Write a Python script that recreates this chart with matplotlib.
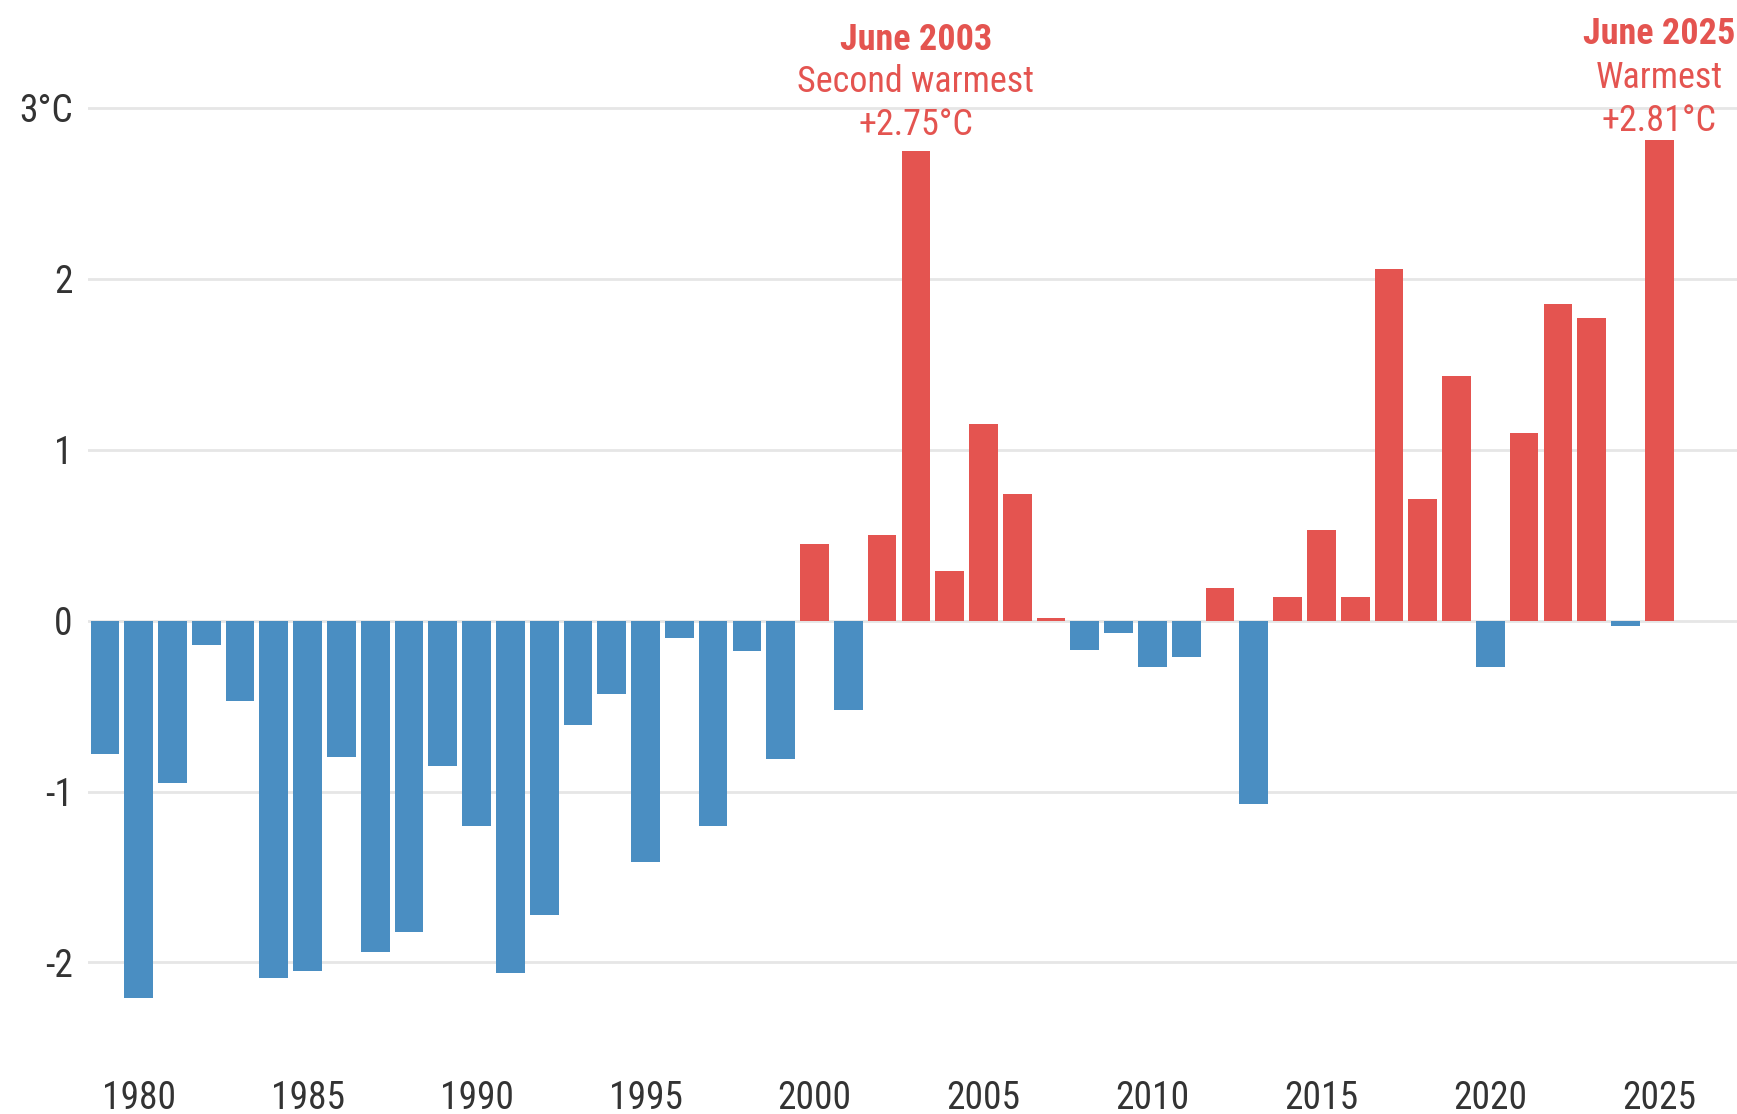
import matplotlib
matplotlib.use("Agg")
import matplotlib.pyplot as plt
from matplotlib import font_manager

# June temperature anomaly (°C), 1979-2025
years = list(range(1979, 2026))
anomaly = [-0.78, -2.21, -0.95, -0.14, -0.47, -2.09, -2.05, -0.80, -1.94, -1.82,
           -0.85, -1.20, -2.06, -1.72, -0.61, -0.43, -1.41, -0.10, -1.20, -0.18,
           -0.81, 0.45, -0.52, 0.50, 2.75, 0.29, 1.15, 0.74, 0.015, -0.17,
           -0.07, -0.27, -0.21, 0.19, -1.07, 0.14, 0.53, 0.14, 2.06, 0.71,
           1.43, -0.27, 1.10, 1.85, 1.77, -0.03, 2.81]

ytick_vals = [-2, -1, 0, 1, 2, 3]
ytick_labels = ["-2", "-1", "0", "1", "2", "3°C"]
xtick_vals = list(range(1980, 2026, 5))

notes = [
    (2003, ["June 2003", "Second warmest", "+2.75°C"], [3.40, 3.15, 2.90]),
    (2025, ["June 2025", "Warmest", "+2.81°C"], [3.43, 3.175, 2.925]),
]

BLUE = "#4A8EC2"
RED = "#E45450"
TEXT = "#333333"
GRID = "#E6E6E6"

# prefer a narrow face if one is around
available = {f.name for f in font_manager.fontManager.ttflist}
family = "Roboto"
for name in ["Roboto Condensed", "Liberation Sans Narrow", "Open Sans Condensed"]:
    if name in available:
        family = name
        break
plt.rcParams["font.family"] = [family, "DejaVu Sans"]
fs = 27 if family != "Roboto" else 24
fs_note = fs - 1

fig = plt.figure(figsize=(17.37, 11.14), dpi=100)
ax = fig.add_axes([88 / 1737, 49 / 1114, 1649 / 1737, 1059.6 / 1114])

colors = [RED if v > 0 else BLUE for v in anomaly]
ax.bar(years, anomaly, width=0.85, color=colors, zorder=2)

ax.set_xlim(1978.5, 2027.3)
ax.set_ylim(-2.6, 3.6)
ax.set_yticks(ytick_vals)
ax.set_yticklabels(ytick_labels)
ax.set_xticks(xtick_vals)
ax.tick_params(axis="both", length=0, labelsize=fs, colors=TEXT)
ax.tick_params(axis="y", pad=11)
ax.tick_params(axis="x", pad=11)
ax.grid(axis="y", color=GRID, linewidth=2, zorder=0)
ax.set_axisbelow(True)
for s in ax.spines.values():
    s.set_visible(False)

for x, lines, ys in notes:
    for i, (txt, y) in enumerate(zip(lines, ys)):
        ax.text(x, y, txt, ha="center", va="center", color=RED, fontsize=fs_note,
                fontweight="bold" if i == 0 else "normal", zorder=3)

fig.savefig("out.png", dpi=100, facecolor="white")
